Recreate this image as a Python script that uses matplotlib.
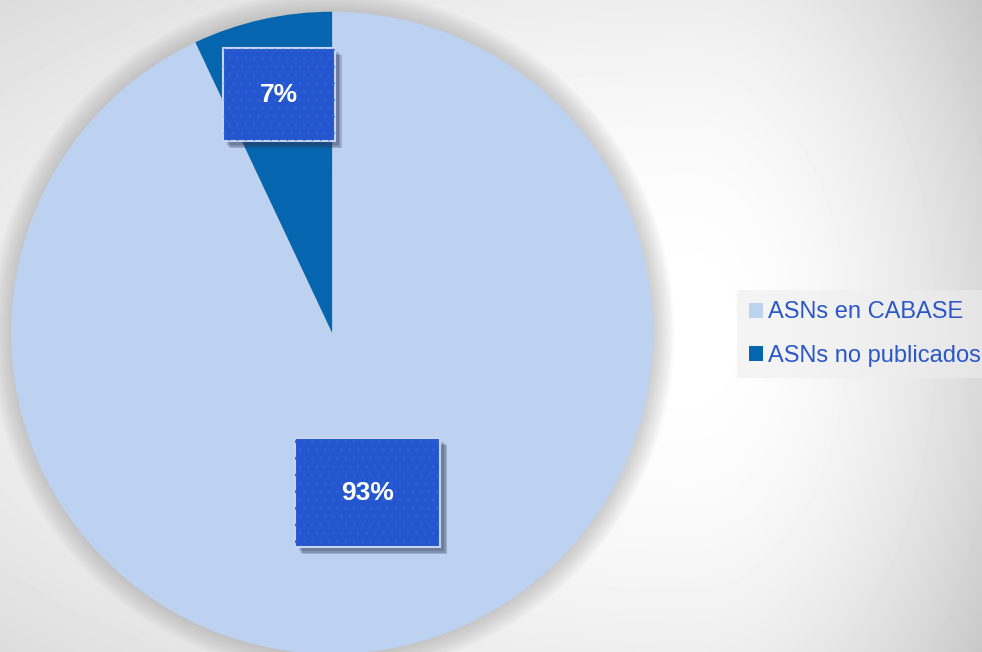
import matplotlib.pyplot as plt
import numpy as np
from matplotlib.patches import Rectangle, Circle

categories = ['ASNs en CABASE', 'ASNs no publicados']
shares = [93, 7]
pct_labels = ['93%', '7%']
colors = ['#bdd1f0', '#0565ae']

plt.rcParams['font.family'] = ['Liberation Sans', 'DejaVu Sans']
plt.rcParams['hatch.linewidth'] = 0.8

fig = plt.figure(figsize=(9.82, 6.52), dpi=100)

# grey background, white just right of the pie, darker towards the corners
bg = fig.add_axes([0, 0, 1, 1], zorder=0)
yy, xx = np.mgrid[0:652, 0:982].astype(float)
dx = xx - 690
dy = yy - 330
a = np.where(dx > 0, 1.76e-6, 1.47e-7)
v = np.clip(1.0 - a * dx ** 2 - 6.4e-7 * dy ** 2, 0.78, 1)
bg.imshow(v, cmap='gray', vmin=0, vmax=1, aspect='auto', extent=[0, 982, 652, 0])
bg.axis('off')

ax = fig.add_axes([0.0112, -0.003, 0.654, 0.985], zorder=1)

# soft shadow round the pie
for k in range(12):
    ax.add_patch(Circle((0, 0), 1 + 0.006 * k, color='#8a8a8a', alpha=0.04,
                        lw=0, clip_on=False))

wedges, _ = ax.pie(shares, colors=colors, startangle=90, counterclock=False,
                   radius=1, wedgeprops=dict(linewidth=0))

label_r = [0.51, 0.76]
box_size = [(0.452, 0.34), (0.349, 0.29)]
for w, lab, r, (bw, bh) in zip(wedges, pct_labels, label_r, box_size):
    mid = np.deg2rad((w.theta1 + w.theta2) / 2)
    x, y = r * np.cos(mid), r * np.sin(mid)
    for s in range(3):
        off = 0.012 + 0.005 * s
        ax.add_patch(Rectangle((x - bw / 2 + off, y - bh / 2 - off), bw, bh,
                               color='#2a3550', alpha=0.22, lw=0, zorder=3))
    ax.add_patch(Rectangle((x - bw / 2, y - bh / 2), bw, bh, facecolor='#2457cf',
                           edgecolor='#c5d5f2', lw=1.5, zorder=4))
    ax.add_patch(Rectangle((x - bw / 2, y - bh / 2), bw, bh, facecolor='none',
                           edgecolor='#3062d6', hatch='..', lw=0, zorder=5))
    ax.text(x, y, lab, ha='center', va='center', color='white', fontsize=19,
            fontweight='bold', zorder=6)

ax.set_xlim(-1, 1)
ax.set_ylim(-1, 1)
ax.axis('off')

leg = fig.legend(wedges, categories, loc='center left',
                 bbox_to_anchor=(737 / 982, 1 - 334 / 652), fontsize=17,
                 labelcolor='#2a56c8', handlelength=0.6, handleheight=0.6,
                 handletextpad=0.2, labelspacing=0.9, borderpad=0.5,
                 borderaxespad=0, frameon=True, fancybox=False)
leg.get_frame().set_facecolor('#eeeeee')
leg.get_frame().set_edgecolor('none')
leg.get_frame().set_alpha(0.6)

fig.savefig('out.png', dpi=100)
